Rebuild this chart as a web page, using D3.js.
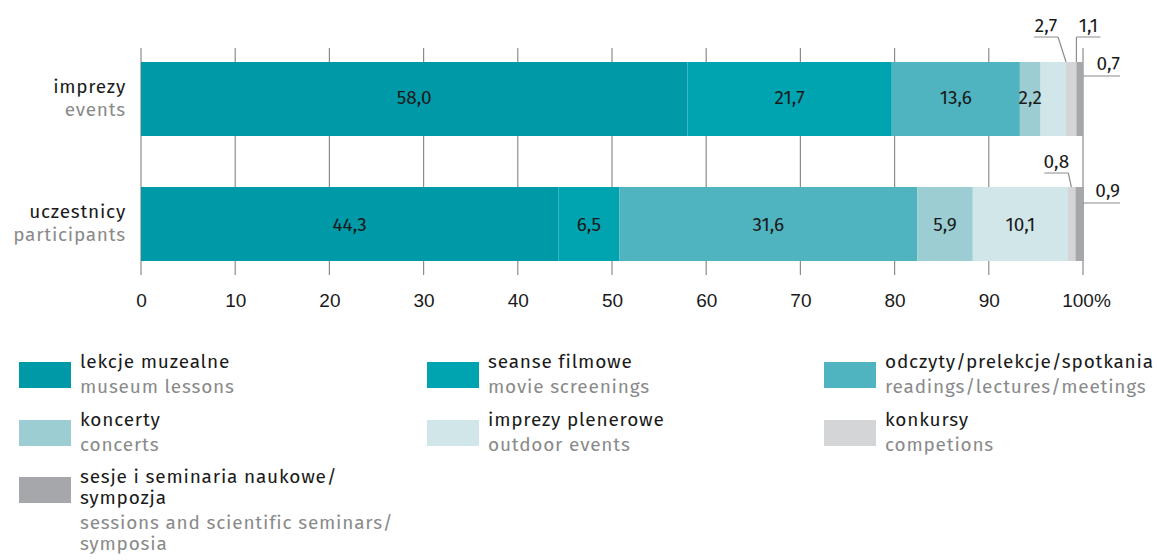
<!DOCTYPE html>
<html><head><meta charset="utf-8">
<script src="https://cdn.jsdelivr.net/npm/d3@7"></script>
<style>
body{margin:0;background:#fff;}
svg{display:block;font-family:"Fira Sans","Open Sans","Noto Sans",sans-serif;}
</style></head>
<body><svg id="c" width="1157" height="560"></svg>
<script>
// ---- data ----
const categories = ["imprezy", "uczestnicy"];
const categoriesEn = ["events", "participants"];
const seriesPl = ["lekcje muzealne", "seanse filmowe", "odczyty/prelekcje/spotkania", "koncerty", "imprezy plenerowe", "konkursy", "sesje i seminaria naukowe/\nsympozja"];
const seriesEn = ["museum lessons", "movie screenings", "readings/lectures/meetings", "concerts", "outdoor events", "competions", "sessions and scientific seminars/\nsymposia"];
const museumLessons   = [58.0, 44.3];
const movieScreenings = [21.7, 6.5];
const readings        = [13.6, 31.6];
const concerts        = [2.2, 5.9];
const outdoorEvents   = [2.7, 10.1];
const competitions    = [1.1, 0.8];
const sessions        = [0.7, 0.9];
const tickValues = [0, 10, 20, 30, 40, 50, 60, 70, 80, 90, 100];
const tickLabels = ["0", "10", "20", "30", "40", "50", "60", "70", "80", "90", "100%"];

const seriesValues = [museumLessons, movieScreenings, readings, concerts, outdoorEvents, competitions, sessions];
const colors = ["#0099a7", "#00a3b0", "#4fb4bf", "#9bcdd3", "#d1e6e9", "#d4d5d7", "#a6a7aa"];

const svg = d3.select("#c");
const keys = seriesPl.map((d, i) => "s" + i);
const rows = categories.map((c, j) => {
  const r = {cat: c};
  keys.forEach((k, i) => r[k] = seriesValues[i][j]);
  return r;
});
const stacked = d3.stack().keys(keys)(rows);

const x = d3.scaleLinear().domain([0, 100]).range([141, 1083]);
const y = d3.scaleBand().domain(categories).range([37, 286]).paddingInner(0.408).paddingOuter(0.2);

// grid lines
svg.append("g").selectAll("line").data(tickValues).join("line")
  .attr("x1", d => x(d)).attr("x2", d => x(d))
  .attr("y1", 48).attr("y2", 275)
  .attr("stroke", "#8c8c8c").attr("stroke-width", 1.2);

// axis labels
const xAxis = d3.axisBottom(x).tickValues(tickValues).tickFormat((d, i) => tickLabels[i]).tickSize(0).tickPadding(0);
const ax = svg.append("g").attr("transform", "translate(0,293)").call(xAxis);
ax.select(".domain").remove();
ax.selectAll("text").attr("font-size", 19).attr("fill", "#1a1a1a").attr("font-family", null)
  .attr("dx", (d) => d === 100 ? 3 : 0);

// bars
const g = svg.append("g");
stacked.forEach((layer, i) => {
  g.append("g").attr("fill", colors[i]).selectAll("rect").data(layer).join("rect")
    .attr("x", d => x(d[0]))
    .attr("width", d => x(d[1]) - x(d[0]))
    .attr("y", d => y(d.data.cat))
    .attr("height", y.bandwidth());
});

const fmt = v => d3.format(".1f")(v).replace(".", ",");

// label placement rules (style, not data)
function mode(i, j) {
  if (i === 6) return "right";
  if (i === 5) return "above";
  if (i === 4 && j === 0) return "above";
  return "inside";
}
const aboveCfg = {
  "4-0": {frac: 1.0, anchor: "end", dx: -8, vertical: false},
  "5-0": {frac: 1.0, anchor: "start", dx: 0, vertical: true},
  "5-1": {frac: 0.45, anchor: "end", dx: -3, vertical: false}
};
const lab = svg.append("g").attr("font-size", 19).attr("fill", "#1a1a1a");
stacked.forEach((layer, i) => {
  layer.forEach((d, j) => {
    const v = seriesValues[i][j];
    const top = y(d.data.cat);
    const m = mode(i, j);
    if (m === "inside") {
      lab.append("text").attr("x", x((d[0] + d[1]) / 2)).attr("y", top + y.bandwidth() / 2 + 5 + j * 2)
        .attr("text-anchor", "middle").text(fmt(v));
    } else if (m === "right") {
      const ly = top + 14 + (j === 1 ? 2 : 0);
      lab.append("line").attr("x1", x(100)).attr("x2", 1120).attr("y1", ly).attr("y2", ly)
        .attr("stroke", "#8c8c8c").attr("stroke-width", 1.2);
      lab.append("text").attr("x", 1120).attr("y", ly - 6).attr("text-anchor", "end").text(fmt(v));
    } else {
      const c = aboveCfg[i + "-" + j];
      const ax0 = x(d[0] + (d[1] - d[0]) * c.frac);
      const uy = top - 25 + (j === 1 ? 11 : 0);
      const tw = 24;
      let ux1, ux2, lx;
      if (c.anchor === "end") { ux2 = ax0 + c.dx; ux1 = ux2 - tw; lx = ux2; }
      else { ux1 = ax0 + c.dx; ux2 = ux1 + tw; lx = ux1; }
      lab.append("path").attr("d", `M${ux1},${uy}H${ux2}M${lx},${uy}L${c.vertical ? lx : ax0},${top}`)
        .attr("fill", "none").attr("stroke", "#8c8c8c").attr("stroke-width", 1.2);
      lab.append("text").attr("x", (ux1 + ux2) / 2).attr("y", uy - 5).attr("text-anchor", "middle").text(fmt(v));
    }
  });
});

// category labels
const cl = svg.append("g").attr("text-anchor", "end").attr("font-size", 19).attr("letter-spacing", 0.75);
categories.forEach((c, j) => {
  const cy = y(c) + y.bandwidth() / 2;
  cl.append("text").attr("x", 126).attr("y", cy - 6).attr("fill", "#1a1a1a").text(c);
  cl.append("text").attr("x", 126).attr("y", cy + 17).attr("fill", "#8a8a8a").text(categoriesEn[j]);
});

// legend
const colX = [19, 427, 824];
const rowY = [362, 420, 477];
const leg = svg.append("g").attr("font-size", 19).attr("letter-spacing", 0.8);
seriesPl.forEach((s, i) => {
  const cx = colX[i % 3], ry = rowY[Math.floor(i / 3)];
  leg.append("rect").attr("x", cx).attr("y", ry).attr("width", 52).attr("height", 26).attr("fill", colors[i]);
  const pl = s.split("\n"), en = seriesEn[i].split("\n");
  let by = ry + 6;
  pl.forEach(t => { leg.append("text").attr("x", cx + 61).attr("y", by).attr("fill", "#1a1a1a").text(t); by += 21; });
  by += 4;
  en.forEach(t => { leg.append("text").attr("x", cx + 61).attr("y", by).attr("fill", "#8a8a8a").text(t); by += 21; });
});
</script></body></html>
